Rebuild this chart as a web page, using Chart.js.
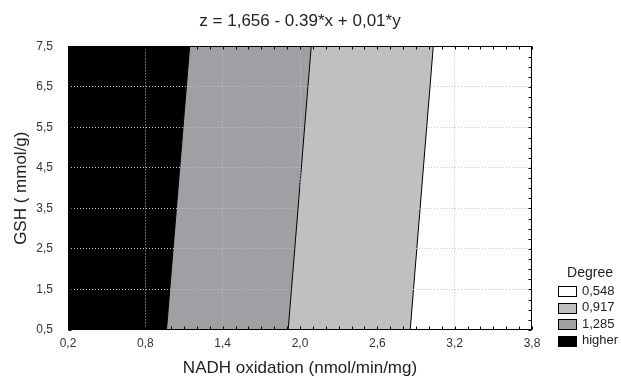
<!DOCTYPE html>
<html>
<head>
<meta charset="utf-8">
<script src="https://cdn.jsdelivr.net/npm/chart.js@4.4.1/dist/chart.umd.min.js"></script>
<style>
  html, body { margin: 0; padding: 0; background: #fff; }
  #wrap { width: 621px; height: 380px; position: relative; }
</style>
</head>
<body>
<div id="wrap"><canvas id="contour"></canvas></div>
<script>
// axis ticks
const xTickValues = [0.2, 0.8, 1.4, 2.0, 2.6, 3.2, 3.8];
const yTickValues = [0.5, 1.5, 2.5, 3.5, 4.5, 5.5, 6.5, 7.5];

// legend levels (z = 1,656 - 0.39*x + 0,01*y)
const levelLabels = ['0,548', '0,917', '1,285', 'higher'];
const levelColors = ['#ffffff', '#c0c0c0', '#a0a0a4', '#000000'];

// contour lines: x where z crosses each level, at y = 0.5 and y = 7.5
const yEnds = [0.5, 7.5];
const edge0548 = [2.855, 3.034];
const edge0917 = [1.908, 2.087];
const edge1285 = [0.964, 1.144];

const xMin = xTickValues[0];
const xMax = xTickValues[xTickValues.length - 1];
const leftEdge = [xMin, xMin];
const rightEdge = [xMax, xMax];

const FONT = "'Liberation Sans', Arial, sans-serif";

function band(a, b) {
  return [
    { x: a[0], y: yEnds[0] },
    { x: b[0], y: yEnds[0] },
    { x: b[1], y: yEnds[1] },
    { x: a[1], y: yEnds[1] },
    { x: a[0], y: yEnds[0] },
  ];
}
function line(e) {
  return [{ x: e[0], y: yEnds[0] }, { x: e[1], y: yEnds[1] }];
}

// regions from high z (left) to low z (right)
const regions = [
  { data: band(leftEdge, edge1285), color: levelColors[3] },
  { data: band(edge1285, edge0917), color: levelColors[2] },
  { data: band(edge0917, edge0548), color: levelColors[1] },
  { data: band(edge0548, rightEdge), color: levelColors[0] },
];

const datasets = [];
[edge1285, edge0917, edge0548].forEach((e) => {
  datasets.push({
    data: line(e),
    showLine: true,
    borderColor: '#000',
    borderWidth: 1,
    pointRadius: 0,
    fill: false,
  });
});
regions.forEach((r) => {
  datasets.push({
    data: r.data,
    showLine: true,
    borderWidth: 0,
    borderColor: r.color,
    backgroundColor: r.color,
    pointRadius: 0,
    fill: 'shape',
  });
});

const fmt = (v) => v.toFixed(1).replace('.', ',');
const gridColor = (ctx) => {
  const n = ctx.scale.ticks.length;
  return ctx.index === 0 || ctx.index === n - 1 ? 'rgba(0,0,0,0)' : '#c4c4c4';
};

// frame, inner minor ticks and the legend
const framePlugin = {
  id: 'frame',
  afterDraw(chart) {
    const { ctx, chartArea: a, scales } = chart;
    const xs = scales.x, ys = scales.y;
    ctx.save();
    ctx.strokeStyle = '#000';
    ctx.lineWidth = 1;
    const L = Math.round(a.left) + 0.5, R = Math.round(a.right) - 0.5;
    const T = Math.round(a.top) + 0.5, B = Math.round(a.bottom) - 0.5;
    ctx.strokeRect(L, T, R - L, B - T);
    ctx.beginPath();
    for (let v = xMin; v <= xMax + 1e-9; v += 0.1) {
      const px = Math.round(xs.getPixelForValue(v)) + 0.5;
      ctx.moveTo(px, B); ctx.lineTo(px, B - 3);
      ctx.moveTo(px, T); ctx.lineTo(px, T + 3);
    }
    for (let v = yEnds[0]; v <= yEnds[1] + 1e-9; v += 0.25) {
      const py = Math.round(ys.getPixelForValue(v)) + 0.5;
      ctx.moveTo(R, py); ctx.lineTo(R - 3, py);
      ctx.moveTo(L, py); ctx.lineTo(L + 3, py);
    }
    ctx.stroke();

    // legend
    const boxX = Math.round(a.right) + 26;
    const firstY = a.bottom - 39;
    const step = 16.5;
    ctx.fillStyle = '#222';
    ctx.font = '14px ' + FONT;
    ctx.textAlign = 'center';
    ctx.textBaseline = 'middle';
    ctx.fillText('Degree', boxX + 32, a.bottom - 57);
    ctx.font = '13px ' + FONT;
    ctx.textAlign = 'left';
    levelLabels.forEach((lab, i) => {
      const cy = firstY + i * step;
      const by = Math.round(cy - 5) + 0.5;
      ctx.fillStyle = levelColors[i];
      ctx.fillRect(boxX + 0.5, by, 18, 10);
      ctx.strokeStyle = '#000';
      ctx.strokeRect(boxX + 0.5, by, 18, 10);
      ctx.fillStyle = '#222';
      ctx.fillText(lab, boxX + 24, cy);
    });
    ctx.restore();
  },
};

new Chart(document.getElementById('contour'), {
  type: 'scatter',
  data: { datasets },
  plugins: [framePlugin],
  options: {
    responsive: true,
    maintainAspectRatio: false,
    animation: false,
    layout: { padding: { left: 0, right: 89, top: 0, bottom: 0 } },
    plugins: {
      legend: { display: false },
      tooltip: { enabled: false },
      title: {
        display: true,
        fullSize: false,
        text: 'z = 1,656 - 0.39*x + 0,01*y',
        color: '#222',
        font: { family: FONT, size: 17, weight: 'normal' },
        padding: { top: 11, bottom: 15 },
      },
    },
    scales: {
      x: {
        type: 'linear',
        position: 'bottom',
        min: xMin,
        max: xMax,
        afterBuildTicks: (s) => { s.ticks = xTickValues.map((v) => ({ value: v })); },
        afterFit: (s) => { s.height = 50; },
        grid: { color: gridColor, drawTicks: false, lineWidth: 1, z: 1 },
        border: { display: false, dash: [1, 2] },
        ticks: { padding: 6, color: '#333', font: { family: FONT, size: 12 }, callback: fmt },
        title: {
          display: true,
          text: 'NADH oxidation (nmol/min/mg)',
          color: '#222',
          font: { family: FONT, size: 17 },
          padding: { top: 9, bottom: 1 },
        },
      },
      y: {
        type: 'linear',
        position: 'left',
        min: yEnds[0],
        max: yEnds[1],
        afterBuildTicks: (s) => { s.ticks = yTickValues.map((v) => ({ value: v })); },
        afterFit: (s) => { s.width = 68; },
        grid: { color: gridColor, drawTicks: false, lineWidth: 1, z: 1 },
        border: { display: false, dash: [1, 2] },
        ticks: { padding: 15, color: '#333', font: { family: FONT, size: 12 }, callback: fmt },
        title: {
          display: true,
          text: 'GSH ( mmol/g)',
          color: '#222',
          font: { family: FONT, size: 17 },
          padding: { top: 11, bottom: 4 },
        },
      },
    },
  },
});
</script>
</body>
</html>
